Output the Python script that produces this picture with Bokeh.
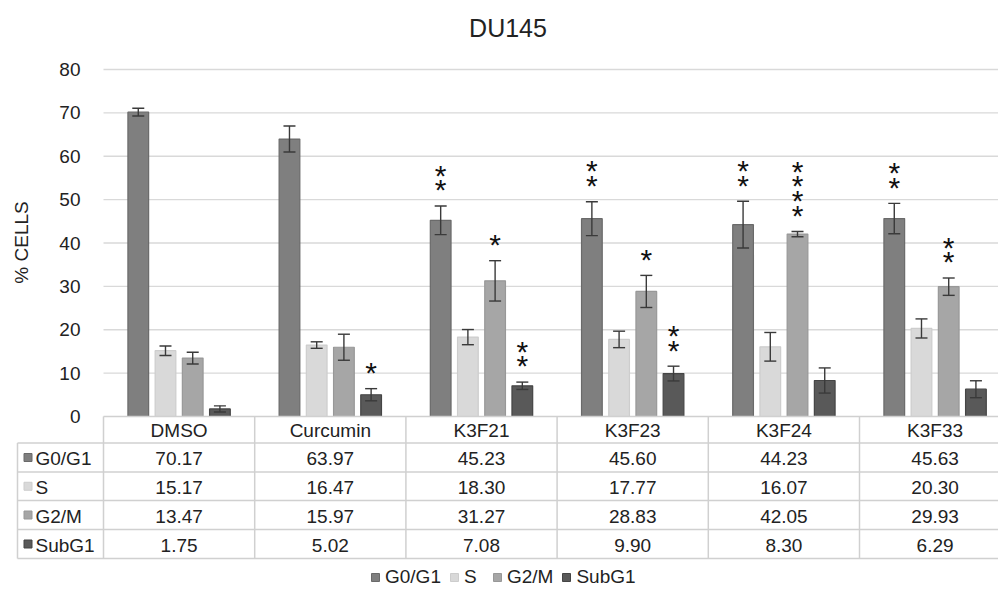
import math
from bokeh.plotting import figure
from bokeh.models import (ColumnDataSource, Range1d, Whisker, TeeHead, Legend,
                          LegendItem, FixedTicker, LinearAxis)
from bokeh.core.properties import value
from bokeh.embed import file_html
from bokeh.resources import INLINE

# ---------------- data ----------------
title = "DU145"
y_label = "% CELLS"
categories = ["DMSO", "Curcumin", "K3F21", "K3F23", "K3F24", "K3F33"]
series_names = ["G0/G1", "S", "G2/M", "SubG1"]
g0g1 = [70.17, 63.97, 45.23, 45.60, 44.23, 45.63]
s_phase = [15.17, 16.47, 18.30, 17.77, 16.07, 20.30]
g2m = [13.47, 15.97, 31.27, 28.83, 42.05, 29.93]
subg1 = [1.75, 5.02, 7.08, 9.90, 8.30, 6.29]
g0g1_err = [0.9, 3.0, 3.3, 3.9, 5.4, 3.5]
s_err = [1.1, 0.75, 1.75, 1.9, 3.3, 2.2]
g2m_err = [1.35, 3.0, 4.65, 3.7, 0.6, 2.0]
subg1_err = [0.7, 1.4, 0.85, 1.7, 2.9, 1.95]
g0g1_sig = [0, 0, 2, 2, 2, 2]
s_sig = [0, 0, 0, 0, 0, 0]
g2m_sig = [0, 0, 1, 1, 4, 2]
subg1_sig = [0, 1, 2, 2, 0, 0]
y_ticks = [0, 10, 20, 30, 40, 50, 60, 70, 80]

values = [g0g1, s_phase, g2m, subg1]
errors = [g0g1_err, s_err, g2m_err, subg1_err]
sigs = [g0g1_sig, s_sig, g2m_sig, subg1_sig]

# ---------------- style / layout constants ----------------
FONT = "Liberation Sans"
TXT = "#222222"
fills = ["#7f7f7f", "#d9d9d9", "#a6a6a6", "#595959"]
outlines = ["#6a6a6a", "#cdcdcd", "#989898", "#454545"]
offsets = [-0.27, -0.09, 0.09, 0.27]
BAR_W = 0.137
W, H = 998, 591
ZERO_PX = 416          # canvas row of value 0
Y_PX = 4.3375          # pixels per percent
LEFT = 103             # canvas column of the first category edge
UNIT_PX = 151.2        # pixels per category
grid_col = "#d0d0d0"
ncat = len(categories)


def X(px):   # canvas column -> data x
    return (px - LEFT) / UNIT_PX


def Y(px):   # canvas row -> data y
    return (ZERO_PX - px) / Y_PX


p = figure(width=W, height=H, output_backend="svg", toolbar_location=None,
           x_range=Range1d(X(0), X(W)), y_range=Range1d(Y(H), Y(0)),
           min_border=0, x_axis_location=None, y_axis_location=None)
p.outline_line_color = None
p.xgrid.visible = False
p.ygrid.visible = False
p.background_fill_color = "white"
p.border_fill_color = "white"

# y axis drawn at the left edge of the first category
ya = LinearAxis(fixed_location=0, ticker=FixedTicker(ticks=y_ticks))
ya.axis_line_color = None
ya.major_tick_line_color = None
ya.minor_tick_line_color = None
ya.major_label_standoff = 17
ya.major_label_text_font = FONT
ya.major_label_text_font_size = "19px"
ya.major_label_text_color = TXT
p.add_layout(ya, "left")

# horizontal gridlines over the plotting area
p.segment(x0=[0] * (len(y_ticks) - 1), y0=y_ticks[1:], x1=[ncat] * (len(y_ticks) - 1),
          y1=y_ticks[1:], line_color="#d9d9d9", line_width=1.3)

# title and y label
p.text(x=[X(507.5)], y=[Y(27)], text=[title], text_font=value(FONT),
       text_font_size="25px", text_align="center", text_baseline="middle",
       text_color=TXT)
p.text(x=[X(21)], y=[Y(242)], text=[y_label], text_font=value(FONT),
       text_font_size="19px", text_align="center", text_baseline="middle",
       text_color=TXT, angle=math.pi / 2)

# bars + error bars
for k in range(4):
    xs = [i + 0.5 + offsets[k] for i in range(ncat)]
    src = ColumnDataSource(dict(
        x=xs, top=values[k],
        upper=[v + e for v, e in zip(values[k], errors[k])],
        lower=[v - e for v, e in zip(values[k], errors[k])]))
    p.vbar(x="x", top="top", bottom=0, width=BAR_W, source=src,
           fill_color=fills[k], line_color=outlines[k], line_width=1.2)
    wk = Whisker(base="x", upper="upper", lower="lower", source=src,
                 line_color="#3a3a3a", line_width=1.4, level="annotation",
                 upper_head=TeeHead(size=12, line_color="#3a3a3a", line_width=1.4),
                 lower_head=TeeHead(size=12, line_color="#3a3a3a", line_width=1.4))
    p.add_layout(wk)

# significance stars
sx, sy = [], []
for k in range(4):
    for i in range(ncat):
        for n in range(sigs[k][i]):
            sx.append(i + 0.5 + offsets[k])
            sy.append(values[k][i] + errors[k][i] + 5.8 + 3.4 * n)
p.text(x=sx, y=sy, text=["*"] * len(sx), text_font=value(FONT),
       text_font_size="30px", text_align="center", text_baseline="middle",
       text_color="#111111", y_offset=9)

# ---------------- data table ----------------
edges_px = [416, 442.5, 471.5, 500, 529, 558]
edges = [Y(e) for e in edges_px]
tab_left = X(17)
p.segment(x0=[0] + [tab_left] * 5, y0=edges, x1=[ncat] * 6, y1=edges,
          line_color=grid_col, line_width=1.5)
p.segment(x0=list(range(ncat + 1)) + [tab_left], y0=[edges[0]] * (ncat + 1) + [edges[1]],
          x1=list(range(ncat + 1)) + [tab_left], y1=[edges[-1]] * (ncat + 2),
          line_color=grid_col, line_width=1.5)
centers = [(edges[j] + edges[j + 1]) / 2 for j in range(5)]

p.text(x=[i + 0.5 for i in range(ncat)], y=[centers[0]] * ncat, text=categories,
       text_font=value(FONT), text_font_size="19px", text_align="center",
       text_baseline="middle", text_color=TXT, y_offset=1)
cx, cy, ct = [], [], []
for k in range(4):
    for i in range(ncat):
        cx.append(i + 0.5)
        cy.append(centers[k + 1])
        ct.append(f"{values[k][i]:.2f}")
p.text(x=cx, y=cy, text=ct, text_font=value(FONT), text_font_size="19px",
       text_align="center", text_baseline="middle", text_color=TXT, y_offset=1)
p.text(x=[X(35)] * 4, y=centers[1:], text=series_names, text_font=value(FONT),
       text_font_size="19px", text_align="left", text_baseline="middle",
       text_color=TXT, y_offset=1)

# row-label keys, reused as the legend's keys
items = []
for k in range(4):
    r = p.scatter(x=[X(27.5)], y=[centers[k + 1]], marker="square",
                  size=8, fill_color=fills[k], line_color=outlines[k])
    items.append(LegendItem(label=series_names[k], renderers=[r]))
leg = Legend(items=items, orientation="horizontal", location=(365, 3),
             border_line_color=None, background_fill_alpha=0,
             label_text_font=FONT, label_text_font_size="19px",
             label_text_color=TXT, glyph_width=20, glyph_height=20,
             label_standoff=0, spacing=3, padding=0, margin=0)
p.add_layout(leg)

open("out.html", "w").write(file_html(p, INLINE))
